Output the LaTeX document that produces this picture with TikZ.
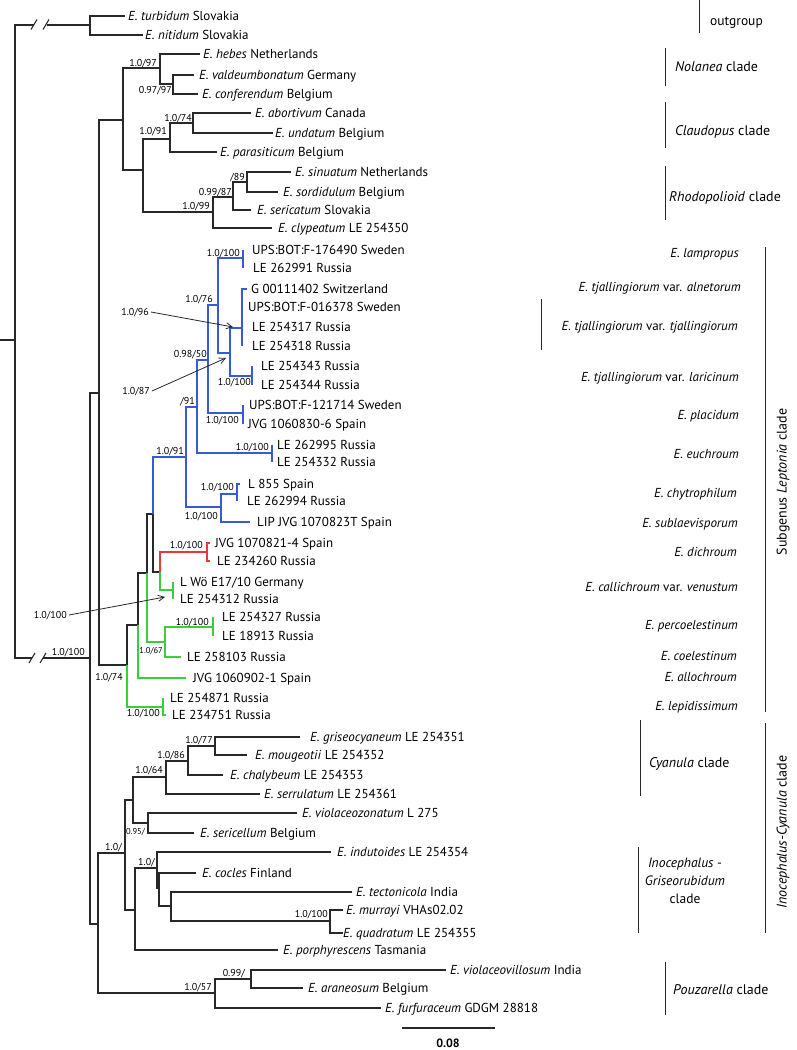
\documentclass[tikz,border=0pt]{standalone}
\usepackage{fontspec}
\setmainfont{PT Sans}
\usetikzlibrary{arrows.meta}
\definecolor{lblue}{RGB}{55,90,215}
\definecolor{lred}{RGB}{235,55,55}
\definecolor{lgreen}{RGB}{60,205,60}
\definecolor{tree}{RGB}{40,40,40}
\begin{document}
\begin{tikzpicture}[x=1pt,y=-1pt,
  br/.style={draw=tree, line width=1.1pt},
  bb/.style={draw=lblue, line width=1.1pt},
  rb/.style={draw=lred, line width=1.1pt},
  gb/.style={draw=lgreen, line width=1.1pt},
  lab/.style={font=\fontsize{13}{15}\selectfont, anchor=west, inner sep=0pt, text height=9.1pt, text depth=0pt},
  sup/.style={font=\fontsize{10}{11}\selectfont, anchor=east, inner sep=0pt, text height=7pt, text depth=0pt},
  sups/.style={sup, font=\fontsize{8.5}{9}\selectfont},
  sp/.style={font=\fontsize{13}{15}\selectfont, anchor=east, inner sep=0pt, text height=9.1pt, text depth=0pt},
  clade/.style={font=\fontsize{14}{16}\selectfont, anchor=west, inner sep=0pt, text height=9.8pt, text depth=0pt},
  rclade/.style={font=\fontsize{14}{16}\selectfont, rotate=90, inner sep=0pt},
  bracket/.style={draw=tree, line width=1pt},
  arr/.style={draw=tree, line width=0.8pt, -{Straight Barb[length=6pt,width=6pt]}}
]
\useasboundingbox (0,0) rectangle (796,1050);

% ---------- internal nodes ----------
\coordinate (stub) at (0,340);
\coordinate (root) at (15,340);
\coordinate (OG) at (90,25);
\coordinate (I) at (90,658);
\coordinate (A) at (99,393);
\coordinate (T) at (123,120);
\coordinate (Nol) at (160,68);
\coordinate (Nol2) at (173,84);
\coordinate (T2) at (143,170);
\coordinate (Cla) at (170,139);
\coordinate (Cla2) at (193,123);
\coordinate (Rho) at (213,212);
\coordinate (Rho2) at (233,197);
\coordinate (Rho3) at (247,182);
% Leptonia
\coordinate (L74) at (127,665);
\coordinate (M) at (138,625);
\coordinate (P) at (147,573);
\coordinate (Q) at (153,514);
\coordinate (RG) at (160,572);
\coordinate (L6) at (186,457);
\coordinate (L5) at (197,407);
\coordinate (L4) at (208,360);
\coordinate (L2) at (218,305);
\coordinate (L1) at (243,258);
\coordinate (L3) at (230,353);
\coordinate (tjal) at (242,328);
\coordinate (lari) at (252,376);
\coordinate (plac) at (243,413);
\coordinate (euch) at (272,453);
\coordinate (N221) at (221,507);
\coordinate (chy) at (237,494);
\coordinate (dich) at (207,552);
\coordinate (calli) at (173,590);
\coordinate (N67) at (165,642);
\coordinate (N100b) at (213,627);
\coordinate (lepi) at (163,707);
% Inocephalus-Cyanula, Pouzarella
\coordinate (B) at (98,924);
\coordinate (C0) at (125,853);
\coordinate (C1) at (133,800);
\coordinate (C2) at (166,777);
\coordinate (C3) at (188,761);
\coordinate (C4) at (215,746);
\coordinate (C6) at (148,823);
\coordinate (C5) at (135,910);
\coordinate (C7) at (157,868);
\coordinate (C8) at (159,888);
\coordinate (C9) at (171,906);
\coordinate (C10) at (330,921);
\coordinate (P0) at (215,993);
\coordinate (P1) at (251,979);

% ---------- tips ----------
\coordinate (turb) at (125,16);
\coordinate (nit) at (143,35);
\coordinate (heb) at (200,54);
\coordinate (val) at (194,75);
\coordinate (con) at (198,94);
\coordinate (abo) at (251,113);
\coordinate (und) at (273,133);
\coordinate (par) at (217,152);
\coordinate (sin) at (291,172);
\coordinate (sor) at (278,192);
\coordinate (ser) at (251,210);
\coordinate (cly) at (272,228);
\coordinate (t1a) at (243,250);
\coordinate (t1b) at (243,268);
\coordinate (tja) at (247,289);
\coordinate (tjb) at (242,307);
\coordinate (tjc) at (242,327);
\coordinate (tjd) at (242,346);
\coordinate (lra) at (252,366);
\coordinate (lrb) at (252,385);
\coordinate (pla) at (243,405);
\coordinate (plb) at (243,424);
\coordinate (eua) at (272,445);
\coordinate (eub) at (272,462);
\coordinate (cha) at (240,484);
\coordinate (chb) at (237,501);
\coordinate (lip) at (250,522);
\coordinate (dia) at (210,543);
\coordinate (dib) at (210,561);
\coordinate (caa) at (173,582);
\coordinate (cab) at (173,599);
\coordinate (n1a) at (213,617);
\coordinate (n1b) at (213,636);
\coordinate (t258) at (181,657);
\coordinate (allo) at (186,678);
\coordinate (lea) at (163,698);
\coordinate (leb) at (166,715);
\coordinate (gris) at (300,737);
\coordinate (moug) at (247,755);
\coordinate (chal) at (223,775);
\coordinate (serr) at (260,794);
\coordinate (viol) at (297,813);
\coordinate (seri) at (194,833);
\coordinate (indu) at (331,852);
\coordinate (coc) at (196,873);
\coordinate (tect) at (352,892);
\coordinate (murr) at (343,910);
\coordinate (quad) at (343,933);
\coordinate (porp) at (278,950);
\coordinate (vvil) at (446,970);
\coordinate (aran) at (303,988);
\coordinate (furf) at (381,1008);

% ---------- root with breaks ----------
\coordinate (ogA) at (34,25);
\coordinate (ogB) at (47,25);
\coordinate (inA) at (32,658);
\coordinate (inB) at (43,658);
\draw[br] (stub) -- (root);
\draw[br] (root) |- (ogA);
\draw[br] (ogB) -- (OG);
\draw[br] (root) |- (inA);
\draw[br] (inB) -- (I);
\draw[br] (31,29.5) -- (37,19.5);
\draw[br] (43,29.5) -- (49,19.5);
\draw[br] (29,663) -- (35,653);
\draw[br] (40,663) -- (46,653);

% ---------- black branches ----------
\foreach \p/\c in {OG/turb, OG/nit, I/A, I/B, A/T, A/L74, T/Nol, T/T2, Nol/heb, Nol/Nol2,
  Nol2/val, Nol2/con, T2/Cla, T2/Rho, Cla/Cla2, Cla/par, Cla2/abo, Cla2/und,
  Rho/Rho2, Rho/cly, Rho2/Rho3, Rho2/ser, Rho3/sin, Rho3/sor,
  L74/M, M/P, P/Q, Q/RG,
  B/C0, B/P0, C0/C1, C0/C5, C1/C2, C1/C6, C2/C3, C2/serr, C3/C4, C3/chal,
  C4/gris, C4/moug, C6/viol, C6/seri, C5/C7, C5/porp, C7/indu, C7/C8,
  C8/coc, C8/C9, C9/tect, C9/C10, C10/murr, C10/quad,
  P0/P1, P0/furf, P1/vvil, P1/aran}
  \draw[br] (\p) |- (\c);

% ---------- blue branches ----------
\foreach \p/\c in {Q/L6, L6/L5, L6/N221, L5/L4, L5/euch, L4/L2, L4/plac, L2/L1, L2/L3,
  L3/tjal, L3/lari, L1/t1a, L1/t1b, tjal/tja, tjal/tjb, tjal/tjc, tjal/tjd,
  lari/lra, lari/lrb, plac/pla, plac/plb, euch/eua, euch/eub,
  N221/chy, N221/lip, chy/cha, chy/chb}
  \draw[bb] (\p) |- (\c);

% ---------- red branches ----------
\foreach \p/\c in {RG/dich, dich/dia, dich/dib}
  \draw[rb] (\p) |- (\c);

% ---------- green branches ----------
\foreach \p/\c in {RG/calli, calli/caa, calli/cab, P/N67, N67/N100b, N67/t258,
  N100b/n1a, N100b/n1b, M/allo, L74/lepi, lepi/lea, lepi/leb}
  \draw[gb] (\p) |- (\c);

% ---------- tip labels ----------
\node[lab] (Lturb) at (128,16) {\textit{E. turbidum} Slovakia};
\node[lab] (Lnit) at (145,35) {\textit{E. nitidum} Slovakia};
\node[lab] (Lheb) at (203,54) {\textit{E. hebes} Netherlands};
\node[lab] (Lval) at (199,75) {\textit{E. valdeumbonatum} Germany};
\node[lab] (Lcon) at (202,94) {\textit{E. conferendum} Belgium};
\node[lab] (Labo) at (255,113) {\textit{E. abortivum} Canada};
\node[lab] (Lund) at (275,133) {\textit{E. undatum} Belgium};
\node[lab] (Lpar) at (220,152) {\textit{E. parasiticum} Belgium};
\node[lab] (Lsin) at (295,172) {\textit{E. sinuatum} Netherlands};
\node[lab] (Lsor) at (283,192) {\textit{E. sordidulum} Belgium};
\node[lab] (Lser) at (257,210) {\textit{E. sericatum} Slovakia};
\node[lab] (Lcly) at (278,228) {\textit{E. clypeatum} LE 254350};

\node[lab] (Lt1a) at (252,250) {UPS:BOT:F-176490 Sweden};
\node[lab] (Lt1b) at (253,268) {LE 262991 Russia};
\node[lab] (Ltja) at (251,289) {G 00111402 Switzerland};
\node[lab] (Ltjb) at (248,307) {UPS:BOT:F-016378 Sweden};
\node[lab] (Ltjc) at (252,327) {LE 254317 Russia};
\node[lab] (Ltjd) at (252,346) {LE 254318 Russia};
\node[lab] (Llra) at (261,366) {LE 254343 Russia};
\node[lab] (Llrb) at (261,385) {LE 254344 Russia};
\node[lab] (Lpla) at (249,405) {UPS:BOT:F-121714 Sweden};
\node[lab] (Lplb) at (248,424) {JVG 1060830-6 Spain};
\node[lab] (Leua) at (277,445) {LE 262995 Russia};
\node[lab] (Leub) at (277,462) {LE 254332 Russia};
\node[lab] (Lcha) at (248,484) {L 855 Spain};
\node[lab] (Lchb) at (247,501) {LE 262994 Russia};
\node[lab] (Llip) at (257,522) {LIP JVG 1070823T Spain};
\node[lab] (Ldia) at (215,543) {JVG 1070821-4 Spain};
\node[lab] (Ldib) at (217,561) {LE 234260 Russia};
\node[lab] (Lcaa) at (180,582) {L Wö E17/10 Germany};
\node[lab] (Lcab) at (180,599) {LE 254312 Russia};
\node[lab] (Ln1a) at (222,617) {LE 254327 Russia};
\node[lab] (Ln1b) at (222,636) {LE 18913 Russia};
\node[lab] (Lt258) at (187,657) {LE 258103 Russia};
\node[lab] (Lallo) at (193,678) {JVG 1060902-1 Spain};
\node[lab] (Llea) at (170,698) {LE 254871 Russia};
\node[lab] (Lleb) at (172,715) {LE 234751 Russia};

\node[lab] (Lgris) at (310,737) {\textit{E. griseocyaneum} LE 254351};
\node[lab] (Lmoug) at (255,755) {\textit{E. mougeotii} LE 254352};
\node[lab] (Lchal) at (230,775) {\textit{E. chalybeum} LE 254353};
\node[lab] (Lserr) at (264,794) {\textit{E. serrulatum} LE 254361};
\node[lab] (Lviol) at (302,813) {\textit{E. violaceozonatum} L 275};
\node[lab] (Lseri) at (200,833) {\textit{E. sericellum} Belgium};
\node[lab] (Lindu) at (337,852) {\textit{E. indutoides} LE 254354};
\node[lab] (Lcoc) at (202,873) {\textit{E. cocles} Finland};
\node[lab] (Ltect) at (356,892) {\textit{E. tectonicola} India};
\node[lab] (Lmurr) at (346,910) {\textit{E. murrayi} VHAs02.02};
\node[lab] (Lquad) at (343,933) {\textit{E. quadratum} LE 254355};
\node[lab] (Lporp) at (283,950) {\textit{E. porphyrescens} Tasmania};
\node[lab] (Lvvil) at (450,970) {\textit{E. violaceovillosum} India};
\node[lab] (Laran) at (308,988) {\textit{E. araneosum} Belgium};
\node[lab] (Lfurf) at (385,1008) {\textit{E. furfuraceum} GDGM 28818};

% ---------- support values ----------
\node[sup] (s1) at (157,63) {1.0/97};
\node[sup] (s2) at (172,90) {0.97/97};
\node[sup] (s3) at (192,118) {1.0/74};
\node[sup] (s4) at (167,131) {1.0/91};
\node[sup] (s5) at (245,177) {/89};
\node[sup] (s6) at (232,192) {0.99/87};
\node[sup] (s7) at (210,206) {1.0/99};
\node[sup] (s8) at (240,253) {1.0/100};
\node[sup] (s9) at (213,299) {1.0/76};
\node[sup] (s10) at (207,354) {0.98/50};
\node[sup] (s11) at (251,382) {1.0/100};
\node[sup] (s12) at (239,420) {1.0/100};
\node[sup] (s13) at (195,401) {/91};
\node[sup] (s14) at (269,447) {1.0/100};
\node[sup] (s15) at (184,451) {1.0/91};
\node[sup] (s16) at (234,487) {1.0/100};
\node[sup] (s17) at (218,516) {1.0/100};
\node[sup] (s18) at (203,545) {1.0/100};
\node[sup] (s19) at (209,622) {1.0/100};
\node[sups] (s20) at (163,650) {1.0/67};
\node[sup] (s21) at (160,713) {1.0/100};
\node[sup] (s22) at (123,677) {1.0/74};
\node[sup] (s23) at (85,652) {1.0/100};
\node[sup] (s24) at (149,312) {1.0/96};
\node[sup] (s25) at (150,391) {1.0/87};
\node[sup] (s26) at (67,615) {1.0/100};
\node[sup] (s27) at (213,740) {1.0/77};
\node[sup] (s28) at (185,755) {1.0/86};
\node[sup] (s29) at (163,770) {1.0/64};
\node[sups] (s30) at (145,831) {0.95/};
\node[sup] (s31) at (122,847) {1.0/};
\node[sup] (s32) at (155,862) {1.0/};
\node[sup] (s33) at (328,914) {1.0/100};
\node[sup] (s34) at (245,973) {0.99/};
\node[sup] (s35) at (212,987) {1.0/57};

% ---------- arrows ----------
\coordinate (a96) at (233,327);
\coordinate (a87) at (226,358);
\coordinate (a100) at (165,597);
\draw[arr] ([xshift=2pt]s24.east) -- (a96);
\draw[arr] ([xshift=2pt]s25.east) -- (a87);
\draw[arr] ([xshift=2pt]s26.east) -- (a100);

% ---------- species names (right) ----------
\node[sp] (n1) at (739,253) {\textit{E. lampropus}};
\node[sp] (n2) at (741,287) {\textit{E. tjallingiorum} var. \textit{alnetorum}};
\node[sp] (n3) at (738,326) {\textit{E. tjallingiorum} var. \textit{tjallingiorum}};
\node[sp] (n4) at (739,377) {\textit{E. tjallingiorum} var. \textit{laricinum}};
\node[sp] (n5) at (739,415) {\textit{E. placidum}};
\node[sp] (n6) at (739,454) {\textit{E. euchroum}};
\node[sp] (n7) at (737,493) {\textit{E. chytrophilum}};
\node[sp] (n8) at (738,523) {\textit{E. sublaevisporum}};
\node[sp] (n9) at (737,552) {\textit{E. dichroum}};
\node[sp] (n10) at (738,587) {\textit{E. callichroum} var. \textit{venustum}};
\node[sp] (n11) at (738,625) {\textit{E. percoelestinum}};
\node[sp] (n12) at (737,656) {\textit{E. coelestinum}};
\node[sp] (n13) at (737,677) {\textit{E. allochroum}};
\node[sp] (n14) at (738,706) {\textit{E. lepidissimum}};

% ---------- clade brackets ----------
\draw[bracket] (699,0) -- (699,33);
\node[clade, font=\fontsize{13.5}{15}\selectfont] (cOG) at (710,21) {outgroup};
\draw[bracket] (665,48) -- (665,86);
\node[clade] (cNol) at (675,67) {\textit{Nolanea} clade};
\draw[bracket] (665,102) -- (665,148);
\node[clade] (cCla) at (675,131) {\textit{Claudopus} clade};
\draw[bracket] (665,166) -- (665,220);
\node[clade] (cRho) at (669,197) {\textit{Rhodopolioid} clade};
\draw[bracket] (541,299) -- (541,350);
\draw[bracket] (765,247) -- (765,712);
\node[rclade] (cLep) at (783,482) {Subgenus \textit{Leptonia} clade};
\draw[bracket] (640,720) -- (640,796);
\node[clade] (cCya) at (649,763) {\textit{Cyanula} clade};
\draw[bracket] (765,723) -- (765,933);
\node[rclade] (cIC) at (783,832) {\textit{Inocephalus-Cyanula} clade};
\draw[bracket] (638,847) -- (638,933);
\node[font=\fontsize{13.5}{18}\selectfont, align=center, inner sep=0pt] (cIG) at (685,881) {\textit{Inocephalus} -\\\textit{Griseorubidum}\\clade};
\draw[bracket] (665,962) -- (665,1015);
\node[clade] (cPou) at (673,990) {\textit{Pouzarella} clade};

% ---------- scale bar ----------
\coordinate (sbA) at (402,1028);
\coordinate (sbB) at (495,1028);
\draw[br] (sbA) -- (sbB);
\node[font=\bfseries\fontsize{12}{14}\selectfont, inner sep=0pt, text height=8.5pt, text depth=0pt] (sbL) at (448,1043) {0.08};
\end{tikzpicture}
\end{document}
